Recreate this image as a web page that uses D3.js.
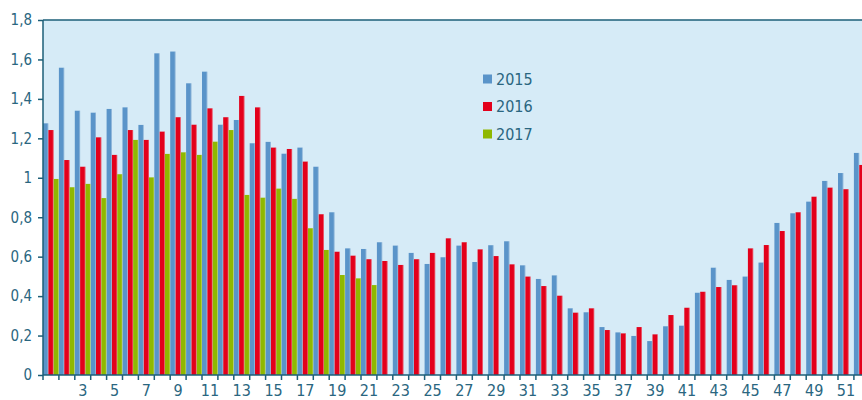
<!DOCTYPE html>
<html lang="fr">

<head>
  <meta charset="UTF-8" />
  <title>d3</title>
  <script src="https://cdn.jsdelivr.net/npm/d3@7"></script>
  <style>
    body { margin: 0; background: #fff; }
    text { font-family: "Liberation Sans Narrow", "DejaVu Sans Condensed", sans-serif; fill: #2a6680; }
  </style>
</head>

<body>
  <svg id="svg"></svg>
</body>

<script>
  // semaines 1..52
  const weeks = d3.range(1, 53);
  const seriesNames = ["2015", "2016", "2017"];
  const yTicks = [0, 0.2, 0.4, 0.6, 0.8, 1, 1.2, 1.4, 1.6, 1.8];
  const xLabels = d3.range(3, 52, 2);

  const v2015 = [1.276, 1.558, 1.34, 1.33, 1.349, 1.357, 1.268, 1.631, 1.64, 1.479,
    1.538, 1.269, 1.293, 1.175, 1.182, 1.122, 1.153, 1.056, 0.825, 0.642,
    0.639, 0.673, 0.656, 0.619, 0.563, 0.597, 0.656, 0.573, 0.658, 0.678,
    0.556, 0.487, 0.505, 0.338, 0.318, 0.243, 0.216, 0.198, 0.172, 0.247,
    0.25, 0.417, 0.544, 0.482, 0.499, 0.57, 0.771, 0.82, 0.879, 0.984,
    1.024, 1.126];
  const v2016 = [1.242, 1.09, 1.056, 1.205, 1.116, 1.242, 1.192, 1.234, 1.307, 1.269,
    1.352, 1.307, 1.415, 1.357, 1.153, 1.146, 1.082, 0.815, 0.625, 0.605,
    0.587, 0.578, 0.558, 0.587, 0.619, 0.693, 0.673, 0.637, 0.603, 0.561,
    0.499, 0.451, 0.402, 0.316, 0.338, 0.228, 0.211, 0.243, 0.206, 0.304,
    0.341, 0.422, 0.446, 0.455, 0.642, 0.659, 0.73, 0.825, 0.904, 0.95,
    0.942, 1.065];
  const v2017 = [0.994, 0.952, 0.969, 0.897, 1.018, 1.192, 1.002, 1.121, 1.129, 1.116,
    1.183, 1.242, 0.913, 0.899, 0.945, 0.893, 0.744, 0.634, 0.507, 0.49,
    0.456];

  const color = { "2015": "#5a94c9", "2016": "#e3001b", "2017": "#8fb800" };
  const axisColor = "#1d5f78";

  const width = 862;
  const height = 400;
  const margin = { top: 20, left: 43, bottom: 25 };
  const plotRight = 43 + 52 * 15.9;
  const y0 = height - margin.bottom;

  const svg = d3.select("#svg").attr("width", width).attr("height", height);

  const xScale = d3.scaleBand().domain(weeks).range([margin.left, plotRight]).padding(0);
  const xSub = d3.scaleBand().domain(seriesNames).range([0, xScale.bandwidth()]).padding(0);
  const yScale = d3.scaleLinear().domain([0, 1.8]).range([y0, margin.top]);

  // fond
  svg.append("rect")
    .attr("x", margin.left).attr("y", margin.top)
    .attr("width", plotRight - margin.left).attr("height", y0 - margin.top)
    .attr("fill", "#d6ebf7");

  const data = [];
  weeks.forEach((w, i) => {
    [v2015, v2016, v2017].forEach((arr, k) => {
      if (arr[i] !== undefined) data.push({ week: w, serie: seriesNames[k], value: arr[i] });
    });
  });

  const bars = svg.append("g");
  bars.selectAll("rect.bar").data(data).enter().append("rect")
    .attr("class", "bar")
    .attr("x", d => xScale(d.week) + xSub(d.serie))
    .attr("y", d => yScale(d.value))
    .attr("width", xSub.bandwidth())
    .attr("height", d => y0 - yScale(d.value))
    .attr("fill", d => color[d.serie]);
  // petit reflet clair a droite des barres
  bars.selectAll("rect.hl").data(data).enter().append("rect")
    .attr("class", "hl")
    .attr("x", d => xScale(d.week) + xSub(d.serie) + xSub.bandwidth() - 0.8)
    .attr("y", d => yScale(d.value))
    .attr("width", 0.8)
    .attr("height", d => y0 - yScale(d.value))
    .attr("fill", "#ffffff")
    .attr("opacity", 0.35);

  // axe y
  const fmt = d => d3.format("~g")(d).replace(".", ",");
  const yAxis = d3.axisLeft(yScale).tickValues(yTicks).tickFormat(fmt).tickSize(5).tickPadding(6);
  const yG = svg.append("g").attr("transform", `translate(${margin.left},0)`).call(yAxis);
  yG.selectAll("text").attr("font-size", 15).attr("font-family", null);
  yG.selectAll("line, path").attr("stroke", axisColor).attr("stroke-width", 1.5);
  yG.select(".domain").attr("d", `M0,${margin.top}V${y0}`);

  // axe x
  const xAxis = d3.axisBottom(xScale).tickValues(xLabels).tickSize(0).tickPadding(10);
  const xG = svg.append("g").attr("transform", `translate(0,${y0})`).call(xAxis);
  xG.selectAll("text").attr("font-size", 16).attr("font-family", null);
  xG.select(".domain").attr("d", `M${margin.left},0H${plotRight}`)
    .attr("stroke", axisColor).attr("stroke-width", 1.5);
  xG.selectAll("line.sep").data(weeks).enter().append("line")
    .attr("class", "sep")
    .attr("x1", d => xScale(d)).attr("x2", d => xScale(d))
    .attr("y1", 0).attr("y2", 5)
    .attr("stroke", axisColor).attr("stroke-width", 1.5);

  // bord superieur
  svg.append("line")
    .attr("x1", margin.left).attr("x2", plotRight)
    .attr("y1", margin.top).attr("y2", margin.top)
    .attr("stroke", axisColor).attr("stroke-width", 1.5);

  // legende
  const legend = svg.append("g").attr("transform", "translate(483,79)");
  seriesNames.forEach((s, i) => {
    const row = legend.append("g").attr("transform", `translate(0,${i * 27.5})`);
    row.append("rect").attr("x", 0).attr("y", -4.5).attr("width", 9).attr("height", 9).attr("fill", color[s]);
    row.append("text").attr("x", 13).attr("y", 0).attr("dy", "0.35em")
      .attr("font-size", 16).text(s);
  });
</script>

</html>
